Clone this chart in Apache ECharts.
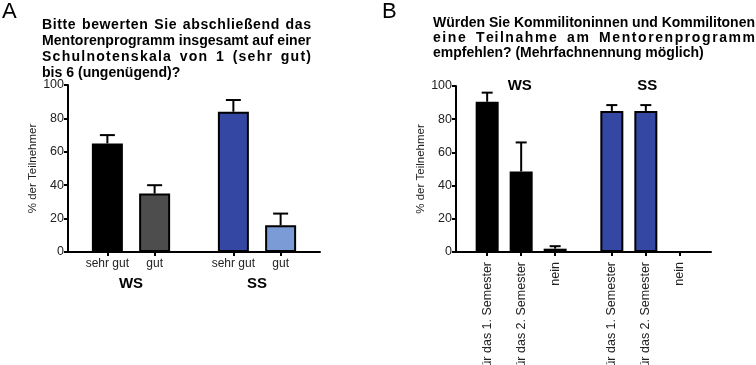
<!DOCTYPE html>
<html><head><meta charset="utf-8">
<script src="https://cdn.jsdelivr.net/npm/echarts@6/dist/echarts.min.js"></script>
<style>html,body{margin:0;padding:0;background:#fff}#c{width:756px;height:365px}</style>
</head><body><div id="c"></div>
<script>
// ---- data ----
const catsA = ['sehr gut', 'gut', 'sehr gut', 'gut'];
const valsA = [65, 35, 84, 16];
const errA = [5, 5, 7, 7];
const groupsA = ['WS', 'SS'];

const catsB = ['für das 1. Semester', 'für das 2. Semester', 'nein', 'für das 1. Semester', 'für das 2. Semester', 'nein'];
const valsB = [90.5, 48.5, 2, 85, 85, 0];
const errB = [5.5, 17.5, 1.5, 3.5, 3.5, 0];
const groupsB = ['WS', 'SS'];

const yTicks = [0, 20, 40, 60, 80, 100];
const yName = '% der Teilnehmer';

const titleA = ['Bitte bewerten Sie abschließend das', 'Mentorenprogramm insgesamt auf einer', 'Schulnotenskala von 1 (sehr gut)', 'bis 6 (ungenügend)?'];
const titleB = ['Würden Sie Kommilitoninnen und Kommilitonen', 'eine Teilnahme am Mentorenprogramm', 'empfehlen? (Mehrfachnennung möglich)'];

// ---- layout (slots on category axis) ----
const slotA = [2, 5, 10, 13], nA = 16;
const slotB = [5, 11, 17, 27, 33, 39], nB = 45;
const colorsA = ['#000000', '#4d4d4d', '#3447a3', '#7b9bd6'];
const colorsB = ['#000000', '#000000', '#000000', '#3447a3', '#3447a3', '#3447a3'];

function expand(n, slots, arr, fill) {
  const out = new Array(n).fill(fill);
  slots.forEach((s, i) => { out[s] = arr[i]; });
  return out;
}
const FONT = '"Liberation Sans", Arial, Helvetica, sans-serif';

const chart = echarts.init(document.getElementById('c'), null, {renderer: 'canvas'});

// justified title text (letter + word spacing)
const mctx = document.createElement('canvas').getContext('2d');
function fitSize(text, target) {
  mctx.font = 'bold 20px ' + FONT;
  return 20 * target / mctx.measureText(text).width;
}
function titleEls(lines, x0, x1, yc0, lh, size, justify) {
  const els = [];
  const font = 'bold ' + size.toFixed(2) + 'px ' + FONT;
  mctx.font = font;
  lines.forEach((ln, li) => {
    const y = yc0 + li * lh - size / 2;
    if (justify[li]) {
      const chars = Array.from(ln);
      const natural = mctx.measureText(ln).width;
      const extra = x1 - x0 - natural;
      let wsum = 0;
      const wts = [];
      for (let i = 0; i < chars.length - 1; i++) {
        const w = (chars[i] === ' ' || chars[i + 1] === ' ') ? 2 : 1;
        wts.push(w); wsum += w;
      }
      const extraAt = i => { let s = 0; for (let k = 0; k < i; k++) s += wts[k]; return extra * s / wsum; };
      let prefix = '';
      for (let i = 0; i < chars.length; i++) {
        const base = mctx.measureText(prefix).width;
        if (chars[i] !== ' ') {
          els.push({type: 'text', left: x0 + base + extraAt(i), top: y, style: {text: chars[i], font: font, fill: '#000'}});
        }
        prefix += chars[i];
      }
    } else {
      els.push({type: 'text', left: x0, top: y, style: {text: ln, font: font, fill: '#000'}});
    }
  });
  return els;
}

function errSeries(xi, yi, slots, vals, errs, cap) {
  const data = slots.map((s, i) => [s, vals[i], errs[i]]);
  return {
    type: 'custom', xAxisIndex: xi, yAxisIndex: yi, z: 1,
    data: data,
    renderItem: function (params, api) {
      const x = api.value(0), v = api.value(1), e = api.value(2);
      if (!e) return null;
      const p0 = api.coord([x, v]);
      const p1 = api.coord([x, v + e]);
      const st = {stroke: '#000', lineWidth: 2};
      return {type: 'group', children: [
        {type: 'line', shape: {x1: p0[0], y1: p0[1], x2: p1[0], y2: p1[1]}, style: st},
        {type: 'line', shape: {x1: p1[0] - cap / 2, y1: p1[1], x2: p1[0] + cap / 2, y2: p1[1]}, style: st}
      ]};
    }
  };
}

const axisLine = {show: true, lineStyle: {color: '#000', width: 2}};
function yAxis(gi, nameGap) {
  return {
    type: 'value', gridIndex: gi, min: 0, max: 100, interval: 20,
    axisLine: axisLine, axisTick: {show: true, length: 4, lineStyle: {color: '#000', width: 2}},
    splitLine: {show: false},
    axisLabel: {fontSize: 12.5, color: '#222', margin: 4, fontFamily: FONT,
      formatter: v => yTicks.indexOf(v) >= 0 ? String(v) : ''},
    name: yName, nameLocation: 'middle', nameGap: nameGap, nameRotate: 90,
    nameTextStyle: {fontSize: 11.5, color: '#222', fontFamily: FONT}
  };
}

const sizeA = fitSize(titleA[1], 269);
const sizeB = fitSize(titleB[0], 322);

const option = {
  animation: false,
  backgroundColor: '#fff',
  grid: [
    {left: 68, top: 85, width: 252, height: 167, outerBoundsMode: 'none', containLabel: false},
    {left: 456, top: 86, width: 255, height: 166, outerBoundsMode: 'none', containLabel: false}
  ],
  xAxis: [
    {type: 'category', gridIndex: 0, data: expand(nA, slotA, catsA, ''), boundaryGap: true,
      axisLine: axisLine,
      axisTick: {show: true, alignWithLabel: true, length: 4, interval: (i, v) => v !== '', lineStyle: {color: '#000', width: 2}},
      axisLabel: {interval: 0, fontSize: 12, color: '#222', margin: 6, fontFamily: FONT}},
    {type: 'category', gridIndex: 0, data: groupsA, position: 'bottom', offset: 20,
      axisLine: {show: false}, axisTick: {show: false},
      axisLabel: {fontSize: 15, fontWeight: 'bold', color: '#000', margin: 4, fontFamily: FONT}},
    {type: 'category', gridIndex: 1, data: expand(nB, slotB, catsB, ''), boundaryGap: true,
      axisLine: axisLine,
      axisTick: {show: true, alignWithLabel: true, length: 4, interval: (i, v) => v !== '', lineStyle: {color: '#000', width: 2}},
      axisLabel: {interval: 0, rotate: 90, fontSize: 12.5, color: '#222', margin: 10, fontFamily: FONT}},
    {type: 'category', gridIndex: 1, data: groupsB, position: 'top', offset: -9,
      axisLine: {show: false}, axisTick: {show: false},
      axisLabel: {fontSize: 15, fontWeight: 'bold', color: '#000', margin: 2, fontFamily: FONT}}
  ],
  yAxis: [yAxis(0, 29), yAxis(1, 26)],
  series: [
    {type: 'bar', xAxisIndex: 0, yAxisIndex: 0, barWidth: 31, z: 2,
      data: expand(nA, slotA, valsA.map((v, i) => ({value: v, itemStyle: {color: colorsA[i]}})), null),
      itemStyle: {borderColor: '#000', borderWidth: 2}},
    errSeries(0, 0, slotA, valsA, errA, 15),
    {type: 'bar', xAxisIndex: 2, yAxisIndex: 1, barWidth: 23, z: 2,
      data: expand(nB, slotB, valsB.map((v, i) => ({value: v, itemStyle: {color: colorsB[i]}})), null),
      itemStyle: {borderColor: '#000', borderWidth: 2}},
    errSeries(2, 1, slotB, valsB, errB, 11)
  ],
  graphic: [
    {type: 'text', left: 2, top: 1, style: {text: 'A', font: '22px ' + FONT, fill: '#000'}},
    {type: 'text', left: 382, top: 1, style: {text: 'B', font: '22px ' + FONT, fill: '#000'}}
  ].concat(
    titleEls(titleA, 42, 311, 25.5, 16, sizeA, [true, true, true, false]),
    titleEls(titleB, 433, 755, 23, 15.2, sizeB, [true, true, false])
  )
};
chart.setOption(option);
</script></body></html>
